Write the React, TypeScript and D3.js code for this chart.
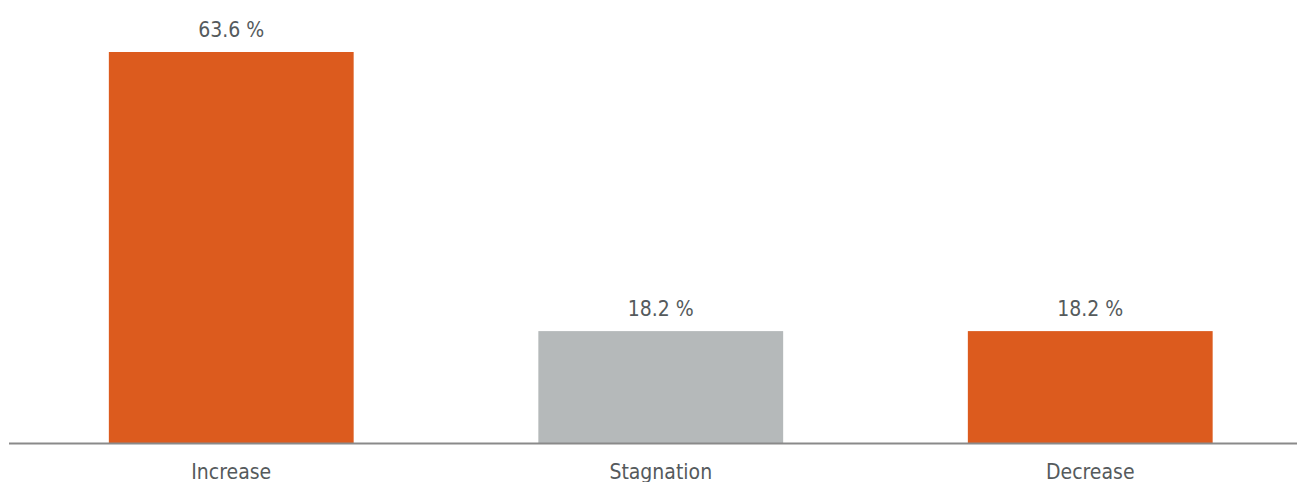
import React from "react";
import * as d3 from "d3";

const categories = ["Increase", "Stagnation", "Decrease"];
const values = [63.6, 18.2, 18.2];
const barColors = ["#DC5B1E", "#B5B9BA", "#DC5B1E"];

const W = 1298;
const H = 482;
const baseY = 443;

export default function App() {
  const x = d3
    .scaleBand<string>()
    .domain(categories)
    .range([16.5, 1305])
    .paddingInner(0.43)
    .paddingOuter(0.215);

  const y = d3.scaleLinear().domain([0, 63.6]).range([baseY, 52]);

  const font = "Tahoma, 'DejaVu Sans Condensed', 'DejaVu Sans', sans-serif";

  return (
    <svg
      width={W}
      height={H}
      style={{ position: "absolute", left: 0, top: 0, background: "#fff" }}
      fontFamily={font}
    >
      {categories.map((c, i) => (
        <g key={c}>
          <rect
            x={x(c)}
            y={y(values[i])}
            width={x.bandwidth()}
            height={baseY - y(values[i])}
            fill={barColors[i]}
          />
          <text
            x={(x(c) as number) + x.bandwidth() / 2}
            y={y(values[i]) - 15}
            textAnchor="middle"
            fontSize={21}
            fill="#555a5c"
          >
            {values[i].toFixed(1)} %
          </text>
          <text
            x={(x(c) as number) + x.bandwidth() / 2}
            y={479}
            textAnchor="middle"
            fontSize={21}
            fill="#555a5c"
          >
            {c}
          </text>
        </g>
      ))}
      <line x1={9} x2={1297} y1={baseY + 0.5} y2={baseY + 0.5} stroke="#8a8a8a" strokeWidth={2} />
    </svg>
  );
}
